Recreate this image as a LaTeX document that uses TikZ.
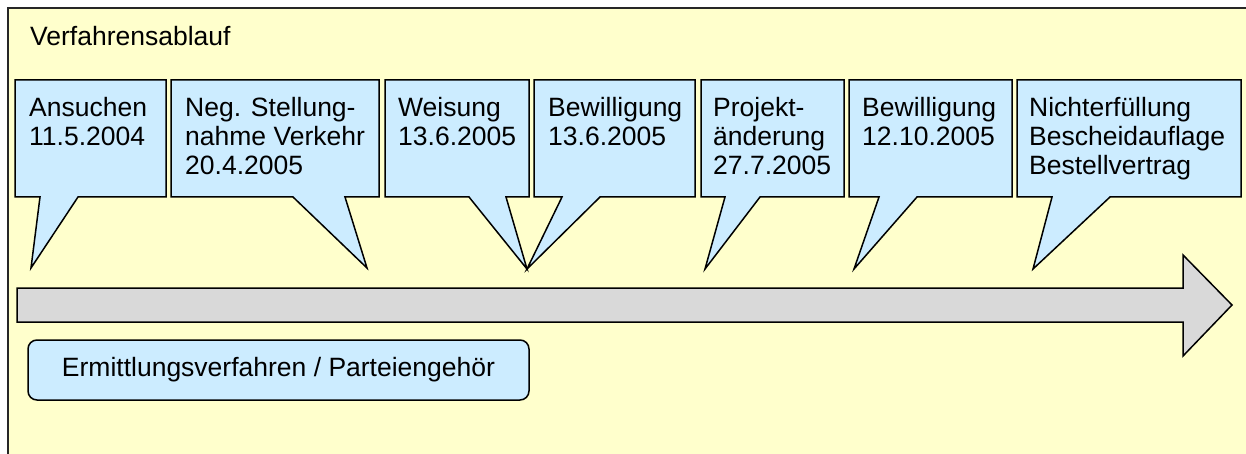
\documentclass[tikz,border=0pt]{standalone}
\usepackage{fontspec}
\setmainfont{Liberation Sans}
\definecolor{bgyellow}{HTML}{FFFFCC}
\definecolor{boxblue}{HTML}{CCECFF}
\definecolor{arrowgray}{HTML}{D9D9D9}
\begin{document}
\begin{tikzpicture}[x=1pt,y=-1pt,
		bubble/.style={draw=black,fill=boxblue,line width=1.5pt},
		bubbletext/.style={anchor=north west,inner sep=0pt,align=left,font=\fontsize{26.5}{29}\selectfont}]
			\path[use as bounding box,fill=white] (0,0) rectangle (1246,454);
			\draw[fill=bgyellow,draw=black!85,line width=2pt] (8,8) rectangle (1270,480);
			\node[anchor=base west,inner sep=0pt,font=\fontsize{26.5}{29}\selectfont] (titel) at (30,46) {Verfahrensablauf};
			% Sprechblasen
			\draw[bubble] (15,80) -- (166,80) -- (166,197) -- (78,197) -- (31,268) -- (40,197) -- (15,197) -- cycle;
			\draw[bubble] (171,80) -- (379,80) -- (379,197) -- (345,197) -- (367,268) -- (293,197) -- (171,197) -- cycle;
			\draw[bubble] (385,80) -- (529,80) -- (529,197) -- (506,197) -- (527,269) -- (469,197) -- (385,197) -- cycle;
			\draw[bubble] (534,80) -- (695,80) -- (695,197) -- (600,197) -- (527,269) -- (562,197) -- (534,197) -- cycle;
			\draw[bubble] (701,80) -- (844,80) -- (844,197) -- (760,197) -- (705,269) -- (725,197) -- (701,197) -- cycle;
			\draw[bubble] (849,80) -- (1012,80) -- (1012,197) -- (917,197) -- (854,269) -- (879,197) -- (849,197) -- cycle;
			\draw[bubble] (1017,80) -- (1241,80) -- (1241,197) -- (1110,197) -- (1033,269) -- (1052,197) -- (1017,197) -- cycle;
			\node[bubbletext] (ansuchen) at (29,97.5) {Ansuchen\\11.5.2004};
			\node[bubbletext] (stellungnahme) at (185,97.5) {Neg. Stellung-\\nahme Verkehr\\20.4.2005};
			\node[bubbletext] (weisung) at (398,97.5) {Weisung\\13.6.2005};
			\node[bubbletext] (bewilligungA) at (548,97.5) {Bewilligung\\13.6.2005};
			\node[bubbletext] (projekt) at (713,97.5) {Projekt-\\änderung\\27.7.2005};
			\node[bubbletext] (bewilligungB) at (862,97.5) {Bewilligung\\12.10.2005};
			\node[bubbletext] (nichterfuellung) at (1029,97.5) {Nichterfüllung\\Bescheidauflage\\Bestellvertrag};
			% Zeitachse
			\draw[fill=arrowgray,line width=1.5pt] (17,288) -- (1183,288) -- (1183,255) -- (1232,305) -- (1183,356) -- (1183,322) -- (17,322) -- cycle;
			\node[draw=black,fill=boxblue,line width=1.5pt,rounded corners=9pt,minimum width=501pt,minimum height=60pt,inner sep=0pt,font=\fontsize{26.5}{29}\selectfont] (ermittlung) at (278.5,370) {Ermittlungsverfahren / Parteiengehör};
		\end{tikzpicture}
\end{document}
